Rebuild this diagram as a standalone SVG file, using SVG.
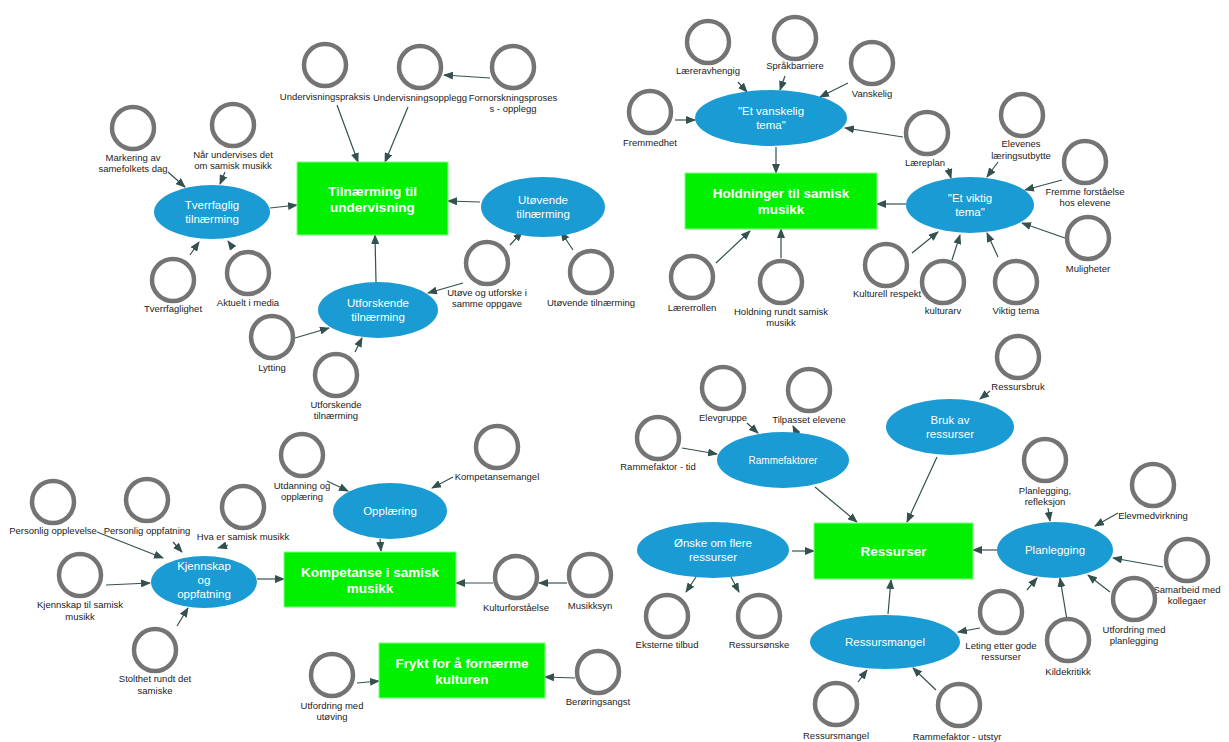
<svg xmlns="http://www.w3.org/2000/svg" width="1229" height="742" viewBox="0 0 1229 742">
<style>
.c{fill:none;stroke:#747474;stroke-width:4.5}
.lb{font-family:"Liberation Sans",Arial,sans-serif;font-size:9.5px;fill:#222;text-anchor:middle}
.el{fill:#1a9bd3}
.et{font-family:"Liberation Sans",Arial,sans-serif;font-size:11.5px;fill:#fff;text-anchor:middle}
.rc{fill:#00f000;stroke:#7dff7d;stroke-width:1}
.rt{font-family:"Liberation Sans",Arial,sans-serif;font-size:13.5px;font-weight:bold;fill:#fff;text-anchor:middle}
.cn line{stroke:#34504f;stroke-width:1.2;fill:none;marker-end:url(#ah)}
</style>
<defs>
<marker id="ah" markerUnits="userSpaceOnUse" markerWidth="10" markerHeight="8" refX="9" refY="4" orient="auto">
<path d="M0,0 L10,4 L0,8 z" fill="#34504f"/>
</marker>
</defs>
<rect width="1229" height="742" fill="#fff"/>
<g id="connectors" class="cn">
<line x1="490" y1="78" x2="444" y2="75"/>
<line x1="337" y1="105" x2="358" y2="162"/>
<line x1="408" y1="107" x2="385" y2="162"/>
<line x1="168" y1="172" x2="185" y2="187"/>
<line x1="225" y1="172" x2="220" y2="184"/>
<line x1="270" y1="208" x2="297" y2="205"/>
<line x1="480" y1="202" x2="448" y2="201"/>
<line x1="190" y1="255" x2="199" y2="242"/>
<line x1="233" y1="248" x2="228" y2="241"/>
<line x1="376" y1="282" x2="375" y2="235"/>
<line x1="295" y1="338" x2="329" y2="328"/>
<line x1="355" y1="352" x2="362" y2="338"/>
<line x1="463" y1="283" x2="428" y2="293"/>
<line x1="510" y1="245" x2="522" y2="232"/>
<line x1="573" y1="250" x2="561" y2="232"/>
<line x1="738" y1="82" x2="747" y2="92"/>
<line x1="785" y1="76" x2="780" y2="90"/>
<line x1="848" y1="83" x2="820" y2="97"/>
<line x1="675" y1="120" x2="695" y2="120"/>
<line x1="903" y1="137" x2="845" y2="128"/>
<line x1="776" y1="147" x2="776" y2="173"/>
<line x1="906" y1="204" x2="877" y2="204"/>
<line x1="948" y1="168" x2="951" y2="178"/>
<line x1="998" y1="162" x2="987" y2="177"/>
<line x1="1062" y1="180" x2="1025" y2="190"/>
<line x1="1065" y1="238" x2="1022" y2="223"/>
<line x1="912" y1="253" x2="938" y2="232"/>
<line x1="952" y1="260" x2="960" y2="235"/>
<line x1="998" y1="257" x2="987" y2="233"/>
<line x1="716" y1="263" x2="750" y2="231"/>
<line x1="781" y1="258" x2="781" y2="229"/>
<line x1="747" y1="423" x2="758" y2="433"/>
<line x1="797" y1="434" x2="793" y2="426"/>
<line x1="682" y1="448" x2="717" y2="454"/>
<line x1="815" y1="487" x2="857" y2="522"/>
<line x1="990" y1="391" x2="980" y2="399"/>
<line x1="937" y1="457" x2="907" y2="522"/>
<line x1="997" y1="550" x2="973" y2="550"/>
<line x1="1048" y1="508" x2="1050" y2="521"/>
<line x1="1118" y1="513" x2="1095" y2="526"/>
<line x1="1163" y1="567" x2="1113" y2="558"/>
<line x1="1110" y1="592" x2="1088" y2="575"/>
<line x1="1067" y1="620" x2="1060" y2="578"/>
<line x1="1027" y1="590" x2="1037" y2="578"/>
<line x1="980" y1="628" x2="958" y2="632"/>
<line x1="888" y1="614" x2="891" y2="580"/>
<line x1="858" y1="682" x2="867" y2="670"/>
<line x1="936" y1="690" x2="913" y2="668"/>
<line x1="792" y1="551" x2="814" y2="551"/>
<line x1="696" y1="577" x2="686" y2="592"/>
<line x1="731" y1="577" x2="739" y2="592"/>
<line x1="97" y1="532" x2="163" y2="558"/>
<line x1="173" y1="542" x2="182" y2="552"/>
<line x1="228" y1="545" x2="218" y2="548"/>
<line x1="106" y1="585" x2="150" y2="583"/>
<line x1="177" y1="626" x2="188" y2="608"/>
<line x1="257" y1="579" x2="284" y2="579"/>
<line x1="380" y1="539" x2="381" y2="551"/>
<line x1="327" y1="481" x2="348" y2="491"/>
<line x1="453" y1="477" x2="432" y2="488"/>
<line x1="493" y1="583" x2="456" y2="583"/>
<line x1="567" y1="583" x2="539" y2="583"/>
<line x1="357" y1="683" x2="379" y2="681"/>
<line x1="575" y1="678" x2="545" y2="677"/>
</g>

<g id="r-tilnaerming"><rect class="rc" x="297" y="162" width="151" height="73"/><text class="rt" x="372.5" y="195.5"><tspan x="372.5">Tilnærming til</tspan><tspan x="372.5" dy="16">undervisning</tspan></text></g>
<g id="r-holdninger"><rect class="rc" x="685" y="173" width="192" height="56"/><text class="rt" x="781" y="197.5"><tspan x="781">Holdninger til samisk</tspan><tspan x="781" dy="16">musikk</tspan></text></g>
<g id="r-ressurser"><rect class="rc" x="814" y="523" width="159" height="56"/><text class="rt" x="893.5" y="556">Ressurser</text></g>
<g id="r-kompetanse"><rect class="rc" x="284" y="552" width="172" height="55"/><text class="rt" x="370" y="576.5"><tspan x="370">Kompetanse i samisk</tspan><tspan x="370" dy="16">musikk</tspan></text></g>
<g id="r-frykt"><rect class="rc" x="379" y="643" width="166" height="55"/><text class="rt" x="462" y="667.5"><tspan x="462">Frykt for å fornærme</tspan><tspan x="462" dy="16">kulturen</tspan></text></g>

<g id="e-tverrfaglig"><ellipse class="el" cx="212" cy="212" rx="58" ry="27"/><text class="et" x="212" y="209"><tspan x="212">Tverrfaglig</tspan><tspan x="212" dy="14">tilnærming</tspan></text></g>
<g id="e-utovende"><ellipse class="el" cx="543" cy="207" rx="62" ry="30"/><text class="et" x="543" y="204"><tspan x="543">Utøvende</tspan><tspan x="543" dy="14">tilnærming</tspan></text></g>
<g id="e-utforskende"><ellipse class="el" cx="378" cy="310" rx="60" ry="28"/><text class="et" x="378" y="307"><tspan x="378">Utforskende</tspan><tspan x="378" dy="14">tilnærming</tspan></text></g>
<g id="e-vanskelig"><ellipse class="el" cx="771" cy="118" rx="76" ry="28"/><text class="et" x="771" y="115"><tspan x="771">"Et vanskelig</tspan><tspan x="771" dy="14">tema"</tspan></text></g>
<g id="e-viktig"><ellipse class="el" cx="970" cy="205" rx="64" ry="28"/><text class="et" x="970" y="202"><tspan x="970">"Et viktig</tspan><tspan x="970" dy="14">tema"</tspan></text></g>
<g id="e-rammefaktorer"><ellipse class="el" cx="783" cy="460" rx="66" ry="28"/><text class="et" x="783" y="464" style="font-size:10px">Rammefaktorer</text></g>
<g id="e-bruk"><ellipse class="el" cx="950" cy="427" rx="64" ry="28"/><text class="et" x="950" y="424"><tspan x="950">Bruk av</tspan><tspan x="950" dy="14">ressurser</tspan></text></g>
<g id="e-planlegging"><ellipse class="el" cx="1055" cy="550" rx="58" ry="28"/><text class="et" x="1055" y="554">Planlegging</text></g>
<g id="e-ressursmangel"><ellipse class="el" cx="885" cy="642" rx="75" ry="27"/><text class="et" x="885" y="646">Ressursmangel</text></g>
<g id="e-onske"><ellipse class="el" cx="713" cy="550" rx="76" ry="28"/><text class="et" x="713" y="547"><tspan x="713">Ønske om flere</tspan><tspan x="713" dy="14">ressurser</tspan></text></g>
<g id="e-kjennskap"><ellipse class="el" cx="204" cy="582" rx="53" ry="26"/><text class="et" x="204" y="570"><tspan x="204">Kjennskap</tspan><tspan x="204" dy="14">og</tspan><tspan x="204" dy="14">oppfatning</tspan></text></g>
<g id="e-opplaering"><ellipse class="el" cx="390" cy="511" rx="57" ry="28"/><text class="et" x="390" y="515">Opplæring</text></g>

<g id="c-markering"><circle class="c" cx="133" cy="128" r="21"/><text class="lb" y="161"><tspan x="133">Markering av</tspan><tspan x="133" dy="10.5">samefolkets dag</tspan></text></g>
<g id="c-naar"><circle class="c" cx="233" cy="125" r="21"/><text class="lb" y="158"><tspan x="233">Når undervises det</tspan><tspan x="233" dy="10.5">om samisk musikk</tspan></text></g>
<g id="c-praksis"><circle class="c" cx="325" cy="65" r="21"/><text class="lb" x="325" y="100">Undervisningspraksis</text></g>
<g id="c-opplegg"><circle class="c" cx="420" cy="67" r="21"/><text class="lb" x="420" y="101">Undervisningsopplegg</text></g>
<g id="c-fornorsk"><circle class="c" cx="513" cy="67" r="21"/><text class="lb" y="101"><tspan x="513">Fornorskningsproses</tspan><tspan x="513" dy="10.5">s - opplegg</tspan></text></g>
<g id="c-tverrfaglighet"><circle class="c" cx="173" cy="280" r="21"/><text class="lb" x="173" y="312">Tverrfaglighet</text></g>
<g id="c-aktuelt"><circle class="c" cx="248" cy="273" r="21"/><text class="lb" x="248" y="306">Aktuelt i media</text></g>
<g id="c-lytting"><circle class="c" cx="272" cy="337" r="21"/><text class="lb" x="272" y="371">Lytting</text></g>
<g id="c-utforskende"><circle class="c" cx="336" cy="375" r="21"/><text class="lb" y="408"><tspan x="336">Utforskende</tspan><tspan x="336" dy="10.5">tilnærming</tspan></text></g>
<g id="c-utove"><circle class="c" cx="487" cy="263" r="21"/><text class="lb" y="296"><tspan x="487">Utøve og utforske i</tspan><tspan x="487" dy="11">samme oppgave</tspan></text></g>
<g id="c-utovende"><circle class="c" cx="591" cy="272" r="21"/><text class="lb" x="591" y="306">Utøvende tilnærming</text></g>

<g id="c-laereravhengig"><circle class="c" cx="708" cy="42" r="21"/><text class="lb" x="708" y="74">Læreravhengig</text></g>
<g id="c-spraakbarriere"><circle class="c" cx="795" cy="38" r="21"/><text class="lb" x="795" y="69">Språkbarriere</text></g>
<g id="c-vanskelig"><circle class="c" cx="872" cy="63" r="21"/><text class="lb" x="872" y="97">Vanskelig</text></g>
<g id="c-fremmedhet"><circle class="c" cx="650" cy="112" r="21"/><text class="lb" x="650" y="146">Fremmedhet</text></g>
<g id="c-laereplan"><circle class="c" cx="927" cy="133" r="21"/><text class="lb" x="925" y="166">Læreplan</text></g>
<g id="c-elevenes"><circle class="c" cx="1022" cy="115" r="21"/><text class="lb" y="147"><tspan x="1021">Elevenes</tspan><tspan x="1021" dy="11.5">læringsutbytte</tspan></text></g>
<g id="c-fremme"><circle class="c" cx="1085" cy="162" r="21"/><text class="lb" y="195"><tspan x="1085">Fremme forståelse</tspan><tspan x="1085" dy="11">hos elevene</tspan></text></g>
<g id="c-muligheter"><circle class="c" cx="1088" cy="238" r="21"/><text class="lb" x="1088" y="272">Muligheter</text></g>
<g id="c-kulturell"><circle class="c" cx="886" cy="265" r="21"/><text class="lb" x="887" y="297">Kulturell respekt</text></g>
<g id="c-kulturarv"><circle class="c" cx="943" cy="282" r="21"/><text class="lb" x="943" y="314">kulturarv</text></g>
<g id="c-viktigtema"><circle class="c" cx="1016" cy="282" r="21"/><text class="lb" x="1016" y="314">Viktig tema</text></g>
<g id="c-laererrollen"><circle class="c" cx="692" cy="277" r="21"/><text class="lb" x="692" y="311">Lærerrollen</text></g>
<g id="c-holdning"><circle class="c" cx="781" cy="282" r="21"/><text class="lb" y="315"><tspan x="781">Holdning rundt samisk</tspan><tspan x="781" dy="11">musikk</tspan></text></g>

<g id="c-elevgruppe"><circle class="c" cx="723" cy="388" r="21"/><text class="lb" x="723" y="421">Elevgruppe</text></g>
<g id="c-tilpasset"><circle class="c" cx="809" cy="390" r="21"/><text class="lb" x="809" y="423">Tilpasset elevene</text></g>
<g id="c-rtid"><circle class="c" cx="658" cy="438" r="21"/><text class="lb" x="658" y="470">Rammefaktor - tid</text></g>
<g id="c-ressursbruk"><circle class="c" cx="1018" cy="357" r="21"/><text class="lb" x="1018" y="390">Ressursbruk</text></g>
<g id="c-planrefl"><circle class="c" cx="1045" cy="460" r="21"/><text class="lb" y="494"><tspan x="1045">Planlegging,</tspan><tspan x="1045" dy="11">refleksjon</tspan></text></g>
<g id="c-elevmed"><circle class="c" cx="1153" cy="485" r="21"/><text class="lb" x="1153" y="519">Elevmedvirkning</text></g>
<g id="c-samarbeid"><circle class="c" cx="1187" cy="560" r="21"/><text class="lb" y="593"><tspan x="1187">Samarbeid med</tspan><tspan x="1187" dy="11">kollegaer</tspan></text></g>
<g id="c-utfplan"><circle class="c" cx="1134" cy="599" r="21"/><text class="lb" y="633"><tspan x="1134">Utfordring med</tspan><tspan x="1134" dy="11">planlegging</tspan></text></g>
<g id="c-kildekritikk"><circle class="c" cx="1068" cy="640" r="21"/><text class="lb" x="1068" y="675">Kildekritikk</text></g>
<g id="c-leting"><circle class="c" cx="1001" cy="612" r="21"/><text class="lb" y="649"><tspan x="1001">Leting etter gode</tspan><tspan x="1001" dy="11">ressurser</tspan></text></g>
<g id="c-rmangel"><circle class="c" cx="836" cy="704" r="21"/><text class="lb" x="836" y="739">Ressursmangel</text></g>
<g id="c-rutstyr"><circle class="c" cx="959" cy="705" r="21"/><text class="lb" x="957" y="740">Rammefaktor - utstyr</text></g>
<g id="c-eksterne"><circle class="c" cx="667" cy="616" r="21"/><text class="lb" x="667" y="648">Eksterne tilbud</text></g>
<g id="c-ressursonske"><circle class="c" cx="759" cy="616" r="21"/><text class="lb" x="759" y="648">Ressursønske</text></g>

<g id="c-personlig-opplevelse"><circle class="c" cx="53" cy="502" r="21"/><text class="lb" x="53" y="534">Personlig opplevelse</text></g>
<g id="c-personlig-oppfatning"><circle class="c" cx="147" cy="500" r="21"/><text class="lb" x="147" y="534">Personlig oppfatning</text></g>
<g id="c-hva"><circle class="c" cx="243" cy="507" r="21"/><text class="lb" x="243" y="540">Hva er samisk musikk</text></g>
<g id="c-kjennskap-til"><circle class="c" cx="80" cy="575" r="21"/><text class="lb" y="608"><tspan x="80">Kjennskap til samisk</tspan><tspan x="80" dy="11.5">musikk</tspan></text></g>
<g id="c-stolthet"><circle class="c" cx="155" cy="650" r="21"/><text class="lb" y="682"><tspan x="155">Stolthet rundt det</tspan><tspan x="155" dy="11.5">samiske</tspan></text></g>
<g id="c-utdanning"><circle class="c" cx="302" cy="455" r="21"/><text class="lb" y="489"><tspan x="302">Utdanning og</tspan><tspan x="302" dy="10.5">opplæring</tspan></text></g>
<g id="c-kompetansemangel"><circle class="c" cx="497" cy="447" r="21"/><text class="lb" x="497" y="480">Kompetansemangel</text></g>
<g id="c-kulturforstaelse"><circle class="c" cx="516" cy="577" r="21"/><text class="lb" x="516" y="611">Kulturforståelse</text></g>
<g id="c-musikksyn"><circle class="c" cx="590" cy="575" r="21"/><text class="lb" x="590" y="609">Musikksyn</text></g>
<g id="c-utfordring-utoving"><circle class="c" cx="332" cy="675" r="21"/><text class="lb" y="709"><tspan x="332">Utfordring med</tspan><tspan x="332" dy="11">utøving</tspan></text></g>
<g id="c-beroringsangst"><circle class="c" cx="598" cy="672" r="21"/><text class="lb" x="598" y="705">Berøringsangst</text></g>
</svg>
